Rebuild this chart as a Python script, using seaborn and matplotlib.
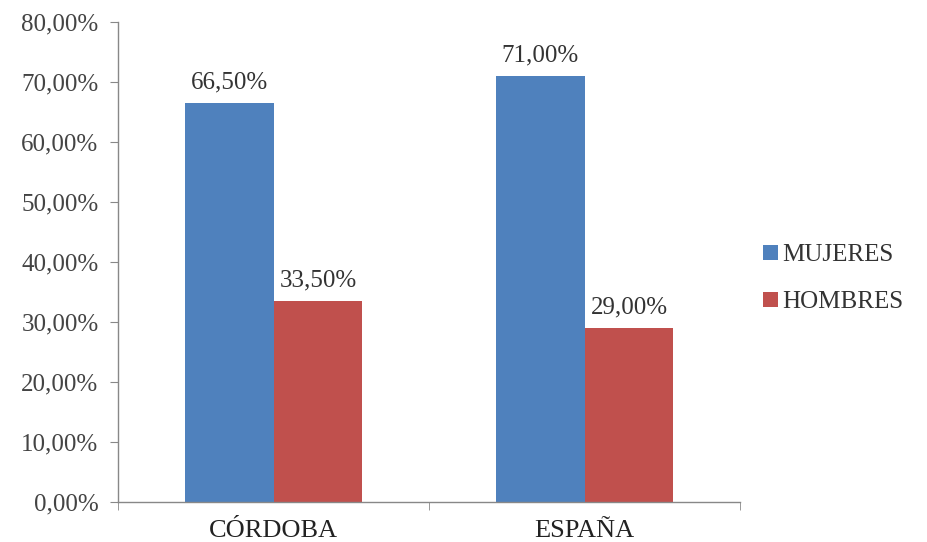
import pandas as pd
import seaborn as sns
import matplotlib.pyplot as plt
from matplotlib.ticker import FuncFormatter, FixedLocator

# data
regions = ["CÓRDOBA", "ESPAÑA"]
series = ["MUJERES", "HOMBRES"]
mujeres = [66.5, 71.0]
hombres = [33.5, 29.0]
colors = ["#4F81BD", "#C0504D"]

df = pd.DataFrame({
    "region": regions * 2,
    "sexo": [series[0]] * 2 + [series[1]] * 2,
    "pct": mujeres + hombres,
})

sns.set_style("white")
plt.rcParams["font.family"] = ["Liberation Serif", "DejaVu Serif"]

fig = plt.figure(figsize=(9.27, 5.42), dpi=100)
ax = fig.add_axes([0.1273, 0.0738, 0.671, 0.8856])

sns.barplot(data=df, x="region", y="pct", hue="sexo", order=regions,
            hue_order=series, palette=colors, width=0.572, saturation=1,
            linewidth=0, ax=ax, legend=True)

for cont in ax.containers:
    ax.bar_label(cont, labels=[f"{v:.2f}%".replace(".", ",") for v in cont.datavalues],
                 padding=7, fontsize=18, color="#333333")

ax.set_xlim(-0.5, 1.5)
ax.set_ylim(0, 80)
ax.set_yticks(range(0, 81, 10))
ax.yaxis.set_major_formatter(FuncFormatter(lambda v, p: f"{v:.2f}%".replace(".", ",")))
ax.xaxis.set_minor_locator(FixedLocator([-0.5, 0.5, 1.5]))
ax.tick_params(axis="x", which="major", length=0, labelsize=19, pad=13, colors="#222222")
ax.tick_params(axis="x", which="minor", bottom=True, length=6, color="#888888")
ax.tick_params(axis="y", left=True, length=6, color="#888888", labelsize=18,
               labelcolor="#444444", pad=8)
ax.set_xlabel("")
ax.set_ylabel("")

for s in ["top", "right"]:
    ax.spines[s].set_visible(False)
for s in ["left", "bottom"]:
    ax.spines[s].set_color("#888888")
    ax.spines[s].set_linewidth(1)

leg = ax.legend(loc="center left", bbox_to_anchor=(1.0, 0.465), frameon=False,
                fontsize=18, handlelength=0.6, handleheight=0.6,
                handletextpad=0.2, labelspacing=1.0)
for t in leg.get_texts():
    t.set_color("#333333")

plt.savefig("out.png", dpi=100)
